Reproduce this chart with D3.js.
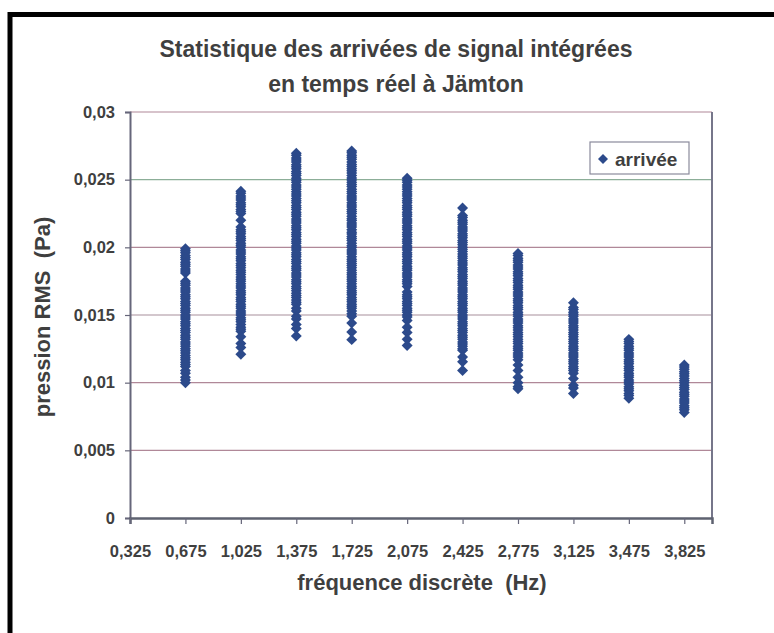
<!DOCTYPE html>
<html>
<head>
<meta charset="utf-8">
<script src="https://cdn.jsdelivr.net/npm/d3@7"></script>
<style>
  body { margin: 0; background: #fff; }
  text { font-family: "Liberation Sans", Arial, sans-serif; font-weight: bold; fill: #3f3f3f; }
</style>
</head>
<body>
<svg id="chart"></svg>
<script>
// frequency bins (Hz)
const freqs = [0.675, 1.025, 1.375, 1.725, 2.075, 2.425, 2.775, 3.125, 3.475, 3.825];

// RMS pressure of each arrival, one list per bin (Pa)
const p0675 = [0.0199, 0.01975, 0.0196, 0.0194, 0.01925, 0.0191, 0.0189, 0.01875, 0.0186, 0.0184, 0.01825, 0.0181,
  0.0175, 0.01735, 0.0172, 0.0170, 0.01685, 0.0167, 0.0165, 0.01635, 0.0162, 0.0160, 0.01585, 0.0157, 0.0155, 0.01535,
  0.0152, 0.0150, 0.01485, 0.0147, 0.0145, 0.01435, 0.0142, 0.0140, 0.01385, 0.0137, 0.0135, 0.01335, 0.0132, 0.0130,
  0.01285, 0.0127, 0.0125, 0.01235, 0.0122, 0.0120, 0.01185, 0.0117, 0.0115, 0.01135, 0.0112, 0.0109, 0.0107, 0.0104,
  0.0102, 0.0100];
const p1025 = [0.02415, 0.0240, 0.0238, 0.02365, 0.0235, 0.0233, 0.02315, 0.0230, 0.0228, 0.02265, 0.0225, 0.0220,
  0.0215, 0.0213, 0.02115, 0.0210, 0.0208, 0.02065, 0.0205, 0.0203, 0.02015, 0.0200, 0.0198, 0.01965, 0.0195, 0.0193,
  0.01915, 0.0190, 0.0188, 0.01865, 0.0185, 0.0183, 0.01815, 0.0180, 0.0178, 0.01765, 0.0175, 0.0173, 0.01715, 0.0170,
  0.0168, 0.01665, 0.0165, 0.0163, 0.01615, 0.0160, 0.0158, 0.01565, 0.0155, 0.0153, 0.01515, 0.0150, 0.0148, 0.01465,
  0.0145, 0.0143, 0.0141, 0.01395, 0.0138, 0.0134, 0.0129, 0.0126, 0.0121];
const p1375 = [0.02695, 0.0268, 0.0266, 0.02645, 0.0263, 0.0261, 0.02595, 0.0258, 0.0256, 0.02545, 0.0253, 0.0251,
  0.02495, 0.0248, 0.0246, 0.02445, 0.0243, 0.0241, 0.02395, 0.0238, 0.0236, 0.02345, 0.0233, 0.0231, 0.02295, 0.0228,
  0.0226, 0.02245, 0.0223, 0.0221, 0.02195, 0.0218, 0.0216, 0.02145, 0.0213, 0.0211, 0.02095, 0.0208, 0.0206, 0.02045,
  0.0203, 0.0201, 0.01995, 0.0198, 0.0196, 0.01945, 0.0193, 0.0191, 0.01895, 0.0188, 0.0186, 0.01845, 0.0183, 0.0181,
  0.01795, 0.0178, 0.0176, 0.01745, 0.0173, 0.0171, 0.01695, 0.0168, 0.0166, 0.01645, 0.0163, 0.0161, 0.01595, 0.0158,
  0.0155, 0.0153, 0.0149, 0.0147, 0.0143, 0.0140, 0.01345];
const p1725 = [0.02712, 0.02698, 0.0268, 0.02665, 0.0265, 0.0263, 0.02612, 0.02598, 0.0258, 0.02565, 0.0255, 0.0253,
  0.02512, 0.02498, 0.0248, 0.02465, 0.0245, 0.0243, 0.02412, 0.02398, 0.0238, 0.02365, 0.0235, 0.0233, 0.02312,
  0.02298, 0.0228, 0.02265, 0.0225, 0.0223, 0.02212, 0.02198, 0.0218, 0.02165, 0.0215, 0.0213, 0.02112, 0.02098,
  0.0208, 0.02065, 0.0205, 0.0203, 0.02012, 0.01998, 0.0198, 0.01965, 0.0195, 0.0193, 0.01912, 0.01898, 0.0188,
  0.01865, 0.0185, 0.0183, 0.01812, 0.01798, 0.0178, 0.01765, 0.0175, 0.0173, 0.01712, 0.01698, 0.0168, 0.01665,
  0.0165, 0.0163, 0.01612, 0.01598, 0.0158, 0.01565, 0.0155, 0.0153, 0.0151, 0.0149, 0.0144, 0.01375, 0.01318];
const p2075 = [0.0251, 0.02495, 0.0248, 0.0246, 0.02445, 0.0243, 0.0241, 0.02395, 0.0238, 0.0236, 0.02345, 0.0233,
  0.0231, 0.02295, 0.0228, 0.0226, 0.02245, 0.0223, 0.0221, 0.02195, 0.0218, 0.0216, 0.02145, 0.0213, 0.0211, 0.02095,
  0.0208, 0.0206, 0.02045, 0.0203, 0.0201, 0.01995, 0.0198, 0.0196, 0.01945, 0.0193, 0.0191, 0.01895, 0.0188, 0.0186,
  0.01845, 0.0183, 0.0181, 0.01795, 0.0178, 0.0176, 0.01745, 0.0173, 0.0171, 0.0167, 0.0165, 0.01635, 0.0162, 0.0160,
  0.01585, 0.0157, 0.0155, 0.01535, 0.0152, 0.0150, 0.01485, 0.0146, 0.0141, 0.0137, 0.0132, 0.01275];
const p2425 = [0.0229, 0.02235, 0.0222, 0.0220, 0.02185, 0.0217, 0.0215, 0.02135, 0.0212, 0.0210, 0.02085, 0.0207,
  0.0205, 0.02035, 0.0202, 0.0200, 0.01985, 0.0197, 0.0195, 0.01935, 0.0192, 0.0190, 0.01885, 0.0187, 0.0185, 0.01835,
  0.0182, 0.0180, 0.01785, 0.0177, 0.0175, 0.01735, 0.0172, 0.0170, 0.01685, 0.0167, 0.0165, 0.01635, 0.0162, 0.0160,
  0.01585, 0.0157, 0.0155, 0.01535, 0.0152, 0.0150, 0.01485, 0.0147, 0.0145, 0.01435, 0.0142, 0.0140, 0.01385, 0.0137,
  0.0135, 0.01335, 0.0132, 0.0130, 0.01285, 0.0127, 0.0125, 0.0124, 0.0119, 0.01155, 0.0109];
const p2775 = [0.01955, 0.0194, 0.0192, 0.01905, 0.0189, 0.0187, 0.01855, 0.0184, 0.0182, 0.01805, 0.0179, 0.0177,
  0.01755, 0.0174, 0.0172, 0.01705, 0.0169, 0.0167, 0.01655, 0.0164, 0.0162, 0.01605, 0.0159, 0.0157, 0.01555, 0.0154,
  0.0152, 0.01505, 0.0149, 0.0147, 0.01455, 0.0144, 0.0142, 0.01405, 0.0139, 0.0137, 0.01355, 0.0134, 0.0132, 0.01305,
  0.0129, 0.0127, 0.01255, 0.0124, 0.0122, 0.01205, 0.0119, 0.0117, 0.0113, 0.0109, 0.0104, 0.0100, 0.0097, 0.00955];
const p3125 = [0.0159, 0.01555, 0.0154, 0.0152, 0.01505, 0.0149, 0.0147, 0.01455, 0.0144, 0.0142, 0.01405, 0.0139,
  0.0137, 0.01355, 0.0134, 0.0132, 0.01305, 0.0129, 0.0127, 0.01255, 0.0124, 0.0122, 0.01205, 0.0119, 0.0117, 0.01155,
  0.0114, 0.0112, 0.01105, 0.0109, 0.0107, 0.0103, 0.0098, 0.0096, 0.0092];
const p3475 = [0.0132, 0.01305, 0.0129, 0.0127, 0.01255, 0.0124, 0.0122, 0.01205, 0.0119, 0.0117, 0.01155, 0.0114,
  0.0112, 0.01105, 0.0109, 0.0107, 0.01055, 0.0104, 0.0102, 0.01005, 0.0099, 0.0097, 0.00955, 0.0094, 0.0092, 0.00905,
  0.00885];
const p3825 = [0.0113, 0.01115, 0.0110, 0.0108, 0.01065, 0.0105, 0.0103, 0.01015, 0.0100, 0.0098, 0.00965, 0.0095,
  0.0093, 0.00915, 0.0090, 0.0088, 0.00865, 0.0085, 0.0083, 0.00815, 0.0080, 0.0078];

const columns = [p0675, p1025, p1375, p1725, p2075, p2425, p2775, p3125, p3475, p3825];

const xTicks = [0.325, 0.675, 1.025, 1.375, 1.725, 2.075, 2.425, 2.775, 3.125, 3.475, 3.825];
const yTicks = [0, 0.005, 0.01, 0.015, 0.02, 0.025, 0.03];

const titleLines = ["Statistique des arrivées de signal intégrées", "en temps réel à Jämton"];
const xTitle = "fréquence discrète  (Hz)";
const yTitle = "pression RMS  (Pa)";
const seriesName = "arrivée";

const W = 774, H = 633;
const plotL = 130, plotR = 712, plotT = 112, plotB = 518;
const markColor = "#2c4a8b";
const gridColors = ["#6c6c7c", "#b08898", "#b08898", "#a8909c", "#b08898", "#8cae98", "#b08898"];

const fr = d3.formatLocale({decimal: ",", thousands: " ", grouping: [3], currency: ["", " €"]});

const svg = d3.select("#chart").attr("width", W).attr("height", H);

const x = d3.scaleLinear().domain([0.325, 4.0]).range([plotL, plotR]);
const y = d3.scaleLinear().domain([0, 0.03]).range([plotB, plotT]);

// outer frame (only top and left visible)
svg.append("line").attr("x1", 8).attr("x2", W).attr("y1", 14.5).attr("y2", 14.5)
  .attr("stroke", "#000").attr("stroke-width", 5);
svg.append("line").attr("x1", 10).attr("x2", 10).attr("y1", 12).attr("y2", H)
  .attr("stroke", "#000").attr("stroke-width", 5);

// title
svg.append("g").selectAll("text").data(titleLines).enter().append("text")
  .attr("x", 396).attr("y", (d, i) => 57 + i * 35)
  .attr("text-anchor", "middle").style("font-size", "23px")
  .text(d => d);

// gridlines
svg.append("g").selectAll("line").data(yTicks.slice(1)).enter().append("line")
  .attr("x1", plotL).attr("x2", plotR)
  .attr("y1", d => y(d)).attr("y2", d => y(d))
  .attr("stroke", (d, i) => gridColors[i + 1]).attr("stroke-width", 1.2);

// right border of plot area
svg.append("line").attr("x1", plotR).attr("x2", plotR).attr("y1", plotT).attr("y2", plotB)
  .attr("stroke", "#76768a").attr("stroke-width", 2);

// axes
const yAxis = svg.append("g").attr("transform", `translate(${plotL},0)`)
  .call(d3.axisLeft(y).tickValues(yTicks).tickFormat(fr.format("~g")).tickSize(5).tickPadding(10));
const xAxis = svg.append("g").attr("transform", `translate(0,${plotB})`)
  .call(d3.axisBottom(x).tickValues(xTicks).tickFormat(fr.format(".3f")).tickSize(6).tickPadding(21));

yAxis.select(".domain").attr("stroke", "#66667a").attr("stroke-width", 2);
xAxis.select(".domain").attr("stroke", "#5e6270").attr("stroke-width", 2.5);
svg.selectAll(".tick line").attr("stroke", "#66667a").attr("stroke-width", 1.2);
svg.selectAll(".tick text").style("font-size", "16.5px").attr("fill", "#3f3f3f")
  .style("font-family", "'Liberation Sans', Arial, sans-serif").style("font-weight", "bold");

// axis titles
svg.append("text").attr("x", 422).attr("y", 590).attr("text-anchor", "middle")
  .style("font-size", "22px").style("white-space", "pre").text(xTitle);
svg.append("text").attr("transform", "translate(50,317) rotate(-90)").attr("text-anchor", "middle")
  .style("font-size", "22px").style("white-space", "pre").text(yTitle);

// points
const points = columns.flatMap((vals, i) => vals.map(v => ({f: freqs[i], p: v})));
const diamond = d3.symbol(d3.symbolSquare).size(60);
svg.append("g").selectAll("path").data(points).enter().append("path")
  .attr("d", diamond)
  .attr("transform", d => `translate(${x(d.f)},${y(d.p)}) rotate(45)`)
  .attr("fill", markColor);

// legend
const lg = svg.append("g").attr("transform", "translate(590,142)");
lg.append("rect").attr("width", 99).attr("height", 32).attr("fill", "#fff")
  .attr("stroke", "#8a8a9c").attr("stroke-width", 1.2);
lg.append("path").attr("d", d3.symbol(d3.symbolSquare).size(50))
  .attr("transform", "translate(13,17) rotate(45)").attr("fill", markColor);
lg.append("text").attr("x", 25).attr("y", 23.5).style("font-size", "19px").text(seriesName);
</script>
</body>
</html>
